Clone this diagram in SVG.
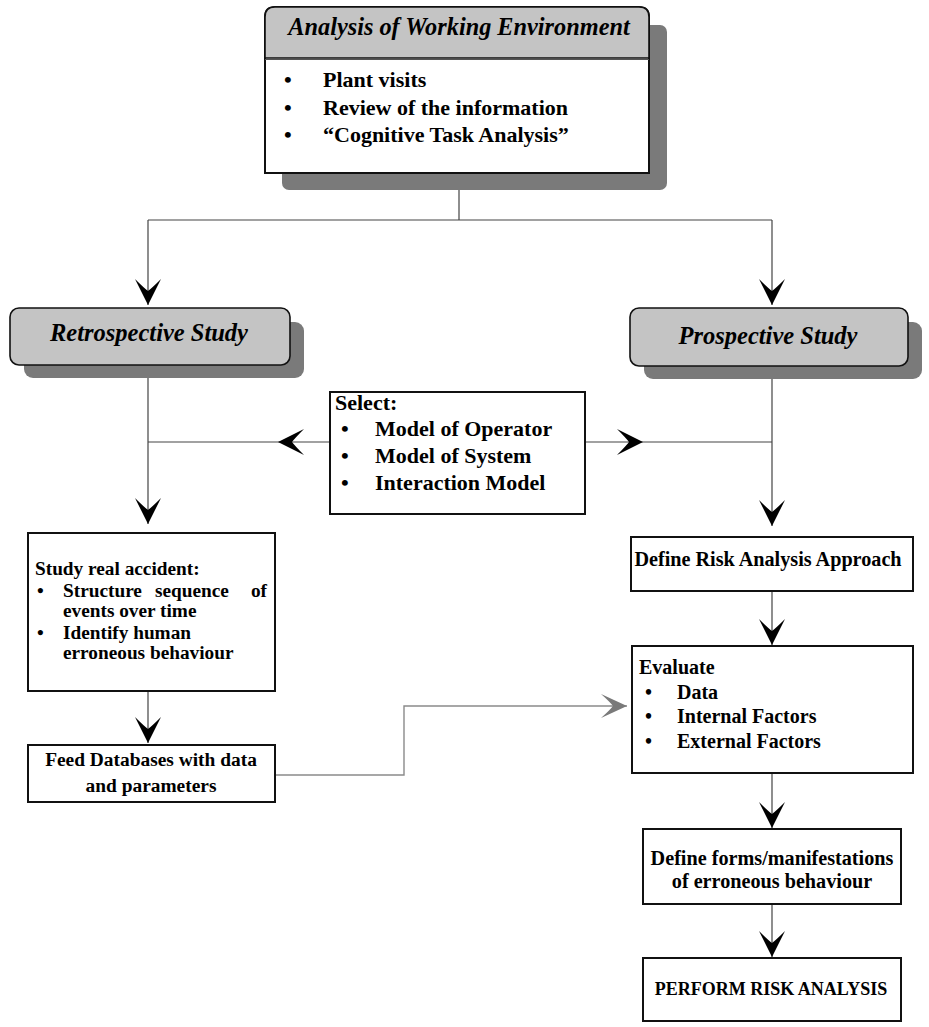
<svg xmlns="http://www.w3.org/2000/svg" width="929" height="1027" viewBox="0 0 929 1027">
<style>
.box{fill:#fff;stroke:#111;stroke-width:2}
.hdr{fill:#c4c4c4;stroke:#111;stroke-width:1.6}
.shd{fill:#7a7a7a;stroke:none}
.hd{font-family:"Liberation Serif","Times New Roman",serif;font-weight:bold;font-style:italic;fill:#000}
.t{font-family:"Liberation Serif","Times New Roman",serif;font-weight:bold;fill:#000}
.c{fill:none;stroke:#444;stroke-width:1.2}
.cg{fill:none;stroke:#8a8a8a;stroke-width:1.4}
</style>
<defs>
<marker id="ah" viewBox="-28 -14 30 28" refX="0" refY="0" markerWidth="30" markerHeight="28" markerUnits="userSpaceOnUse" orient="auto">
<path d="M0,0 L-26,-13 Q-17,-4 -14,0 Q-17,4 -26,13 Z" fill="#000"/>
</marker>
<marker id="ahg" viewBox="-28 -14 30 28" refX="0" refY="0" markerWidth="30" markerHeight="28" markerUnits="userSpaceOnUse" orient="auto">
<path d="M0,0 L-26,-12 Q-17,-4 -14,0 Q-17,4 -26,12 Z" fill="#7a7a7a"/>
</marker>
</defs>

<g id="connectors">
<path class="c" d="M459,190 V220 M148,220 H772"/>
<path class="c" d="M148,220 V305" marker-end="url(#ah)"/>
<path class="c" d="M772,220 V305" marker-end="url(#ah)"/>
<path class="c" d="M148,378 V524" marker-end="url(#ah)"/>
<path class="c" d="M330,442 L278,442 L148,442" marker-mid="url(#ah)"/>
<path class="c" d="M585,442 L643,442 L772,442" marker-mid="url(#ah)"/>
<path class="c" d="M772,379 V526" marker-end="url(#ah)"/>
<path class="c" d="M148,691 V743" marker-end="url(#ah)"/>
<path class="c" d="M772,591 V645" marker-end="url(#ah)"/>
<path class="c" d="M772,773 V828" marker-end="url(#ah)"/>
<path class="c" d="M772,904 V957" marker-end="url(#ah)"/>
<path class="cg" d="M275,775 H404 V706 H627" marker-end="url(#ahg)"/>
</g>

<g id="analysis">
<rect class="shd" x="282" y="25" width="385" height="165" rx="7"/>
<path class="box" d="M265,173 V17 Q265,7 275,7 H639 Q649,7 649,17 V173 Z"/>
<path class="hdr" d="M265,58 V17 Q265,7 275,7 H639 Q649,7 649,17 V58 Z"/>
<line x1="265" y1="59.5" x2="649" y2="59.5" stroke="#555" stroke-width="1"/>
<text class="hd" x="459" y="35" font-size="24.3" text-anchor="middle">Analysis of Working Environment</text>
<text class="t" font-size="22"><tspan x="284" y="87">•</tspan><tspan x="284" y="115">•</tspan><tspan x="284" y="142">•</tspan></text>
<text class="t" font-size="22" x="323" y="87">Plant visits</text>
<text class="t" font-size="22" x="323" y="115">Review of the information</text>
<text class="t" font-size="22" x="323" y="142">“Cognitive Task Analysis”</text>
</g>

<g id="retrospective">
<rect class="shd" x="24" y="322" width="280" height="56" rx="9"/>
<rect class="hdr" x="10" y="308" width="280" height="57" rx="9"/>
<text class="hd" x="149" y="341" font-size="24.5" text-anchor="middle">Retrospective Study</text>
</g>

<g id="prospective">
<rect class="shd" x="644" y="322" width="278" height="57" rx="9"/>
<rect class="hdr" x="630" y="308" width="278" height="58" rx="9"/>
<text class="hd" x="768" y="344" font-size="24.5" text-anchor="middle">Prospective Study</text>
</g>

<g id="select">
<rect class="box" x="330" y="392" width="255" height="122"/>
<text class="t" font-size="22" x="335" y="410">Select:</text>
<text class="t" font-size="22"><tspan x="341" y="436">•</tspan><tspan x="341" y="463">•</tspan><tspan x="341" y="490">•</tspan></text>
<text class="t" font-size="22" x="375" y="436">Model of Operator</text>
<text class="t" font-size="22" x="375" y="463">Model of System</text>
<text class="t" font-size="22" x="375" y="490">Interaction Model</text>
</g>

<g id="study-real-accident">
<rect class="box" x="28" y="533" width="247" height="158"/>
<text class="t" font-size="19.3" x="35" y="575">Study real accident:</text>
<text class="t" font-size="19.3"><tspan x="37" y="597">•</tspan><tspan x="37" y="639">•</tspan></text>
<text class="t" font-size="19.3" x="63" y="597">Structure</text>
<text class="t" font-size="19.3" x="155" y="597">sequence</text>
<text class="t" font-size="19.3" x="267" y="597" text-anchor="end">of</text>
<text class="t" font-size="19.3" x="63" y="617">events over time</text>
<text class="t" font-size="19.3" x="63" y="639">Identify human</text>
<text class="t" font-size="19.3" x="63" y="659">erroneous behaviour</text>
</g>

<g id="feed-databases">
<rect class="box" x="28" y="745" width="247" height="57"/>
<text class="t" font-size="19.4" x="151" y="766" text-anchor="middle">Feed Databases with data</text>
<text class="t" font-size="19.4" x="151" y="792" text-anchor="middle">and parameters</text>
</g>

<g id="define-risk">
<rect class="box" x="631" y="537" width="282" height="54"/>
<text class="t" font-size="20.2" x="768" y="566" text-anchor="middle">Define Risk Analysis Approach</text>
</g>

<g id="evaluate">
<rect class="box" x="632" y="646" width="281" height="127"/>
<text class="t" font-size="20" x="639" y="674">Evaluate</text>
<text class="t" font-size="20"><tspan x="645" y="699">•</tspan><tspan x="645" y="723">•</tspan><tspan x="645" y="748">•</tspan></text>
<text class="t" font-size="20" x="677" y="699">Data</text>
<text class="t" font-size="20" x="677" y="723">Internal Factors</text>
<text class="t" font-size="20" x="677" y="748">External Factors</text>
</g>

<g id="define-forms">
<rect class="box" x="643" y="829" width="258" height="75"/>
<text class="t" font-size="20.2" x="772" y="865" text-anchor="middle">Define forms/manifestations</text>
<text class="t" font-size="20.2" x="772" y="888" text-anchor="middle">of erroneous behaviour</text>
</g>

<g id="perform">
<rect class="box" x="643" y="958" width="258" height="63"/>
<text class="t" font-size="18" x="771" y="995" text-anchor="middle">PERFORM RISK ANALYSIS</text>
</g>
</svg>
